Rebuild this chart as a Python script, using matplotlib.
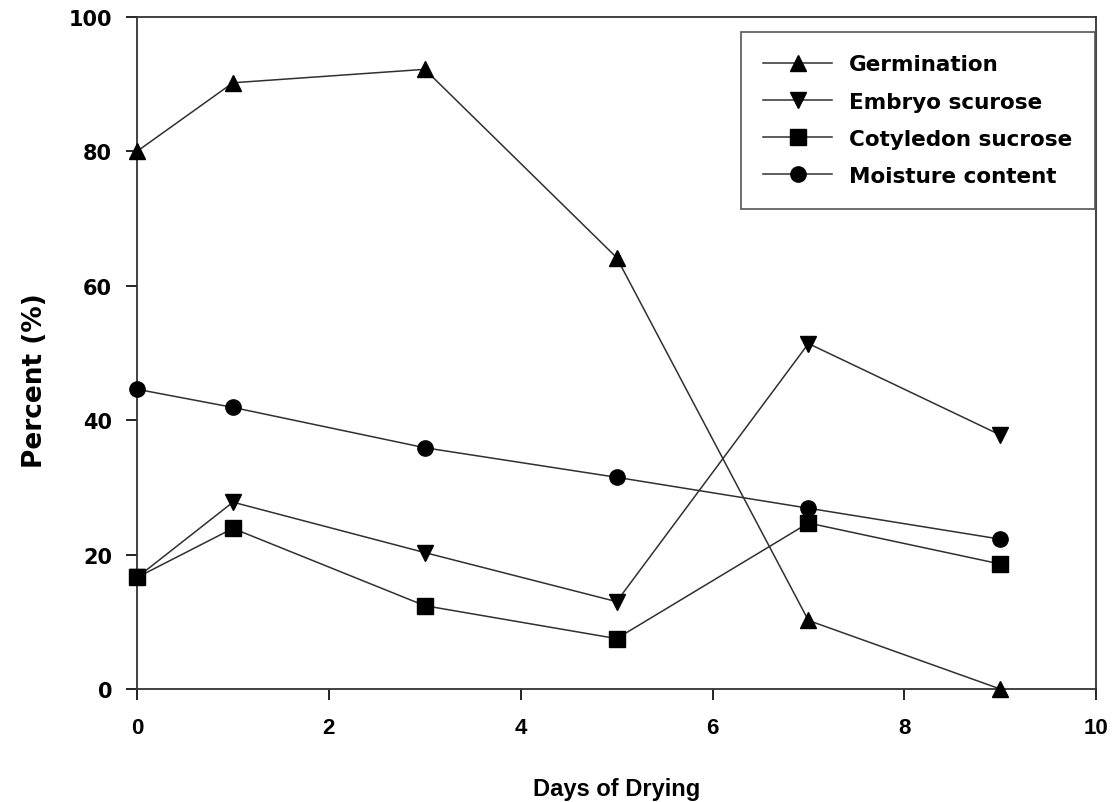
import numpy as np
import matplotlib.pyplot as plt

plt.rcParams['font.family'] = ['Liberation Sans', 'DejaVu Sans']

days = [0, 1, 3, 5, 7, 9]
germination = [80.0, 90.2, 92.2, 64.2, 10.2, 0.0]
embryo = [16.6, 27.8, 20.3, 13.0, 51.4, 37.8]
cotyledon = [16.6, 23.9, 12.4, 7.5, 24.7, 18.6]
moisture = [44.6, 41.9, 35.9, 31.5, 26.9, 22.3]

series = [
    ('Germination', germination, '^'),
    ('Embryo scurose', embryo, 'v'),
    ('Cotyledon sucrose', cotyledon, 's'),
    ('Moisture content', moisture, 'o'),
]

fig = plt.figure(figsize=(11.14, 8.03), dpi=100)
ax = fig.add_axes([0.123, 0.1407, 0.861, 0.837])

for name, vals, mk in series:
    ax.plot(days, vals, color='#303030', linewidth=1.1, marker=mk,
            markersize=11, markerfacecolor='black', markeredgecolor='black',
            label=name, clip_on=False, zorder=3)

ax.set_xlim(0, 10)
ax.set_ylim(0, 100)
ax.set_xticks(np.arange(0, 11, 2))
ax.set_yticks(np.arange(0, 101, 20))
ax.tick_params(direction='out', length=8, width=1.2)
ax.tick_params(axis='x', pad=12, labelsize=16)
ax.tick_params(axis='y', pad=10, labelsize=15)
for lab in ax.get_xticklabels():
    lab.set_fontweight('bold')
for lab in ax.get_yticklabels():
    lab.set_fontweight('bold')
    lab.set_family('DejaVu Sans')
for sp in ax.spines.values():
    sp.set_linewidth(1.3)
    sp.set_color('#333333')

ax.set_xlabel('Days of Drying', fontsize=17, fontweight='bold')
ax.xaxis.label.set_va('center')
ax.xaxis.set_label_coords(0.5, -0.148)
ax.set_ylabel('Percent (%)', fontsize=19, fontweight='bold', family='DejaVu Sans')
ax.yaxis.label.set_va('center')
ax.yaxis.set_label_coords(-0.106, 0.46)

leg = ax.legend(loc='upper right', bbox_to_anchor=(0.999, 0.978), borderaxespad=0,
                fancybox=False, edgecolor='#555555', framealpha=1, handlelength=3.2,
                borderpad=1.05, labelspacing=0.8, handletextpad=0.8,
                prop={'weight': 'bold', 'size': 15.5, 'family': 'DejaVu Sans'})
leg.get_frame().set_linewidth(1.2)

fig.savefig('out.png', dpi=100)
